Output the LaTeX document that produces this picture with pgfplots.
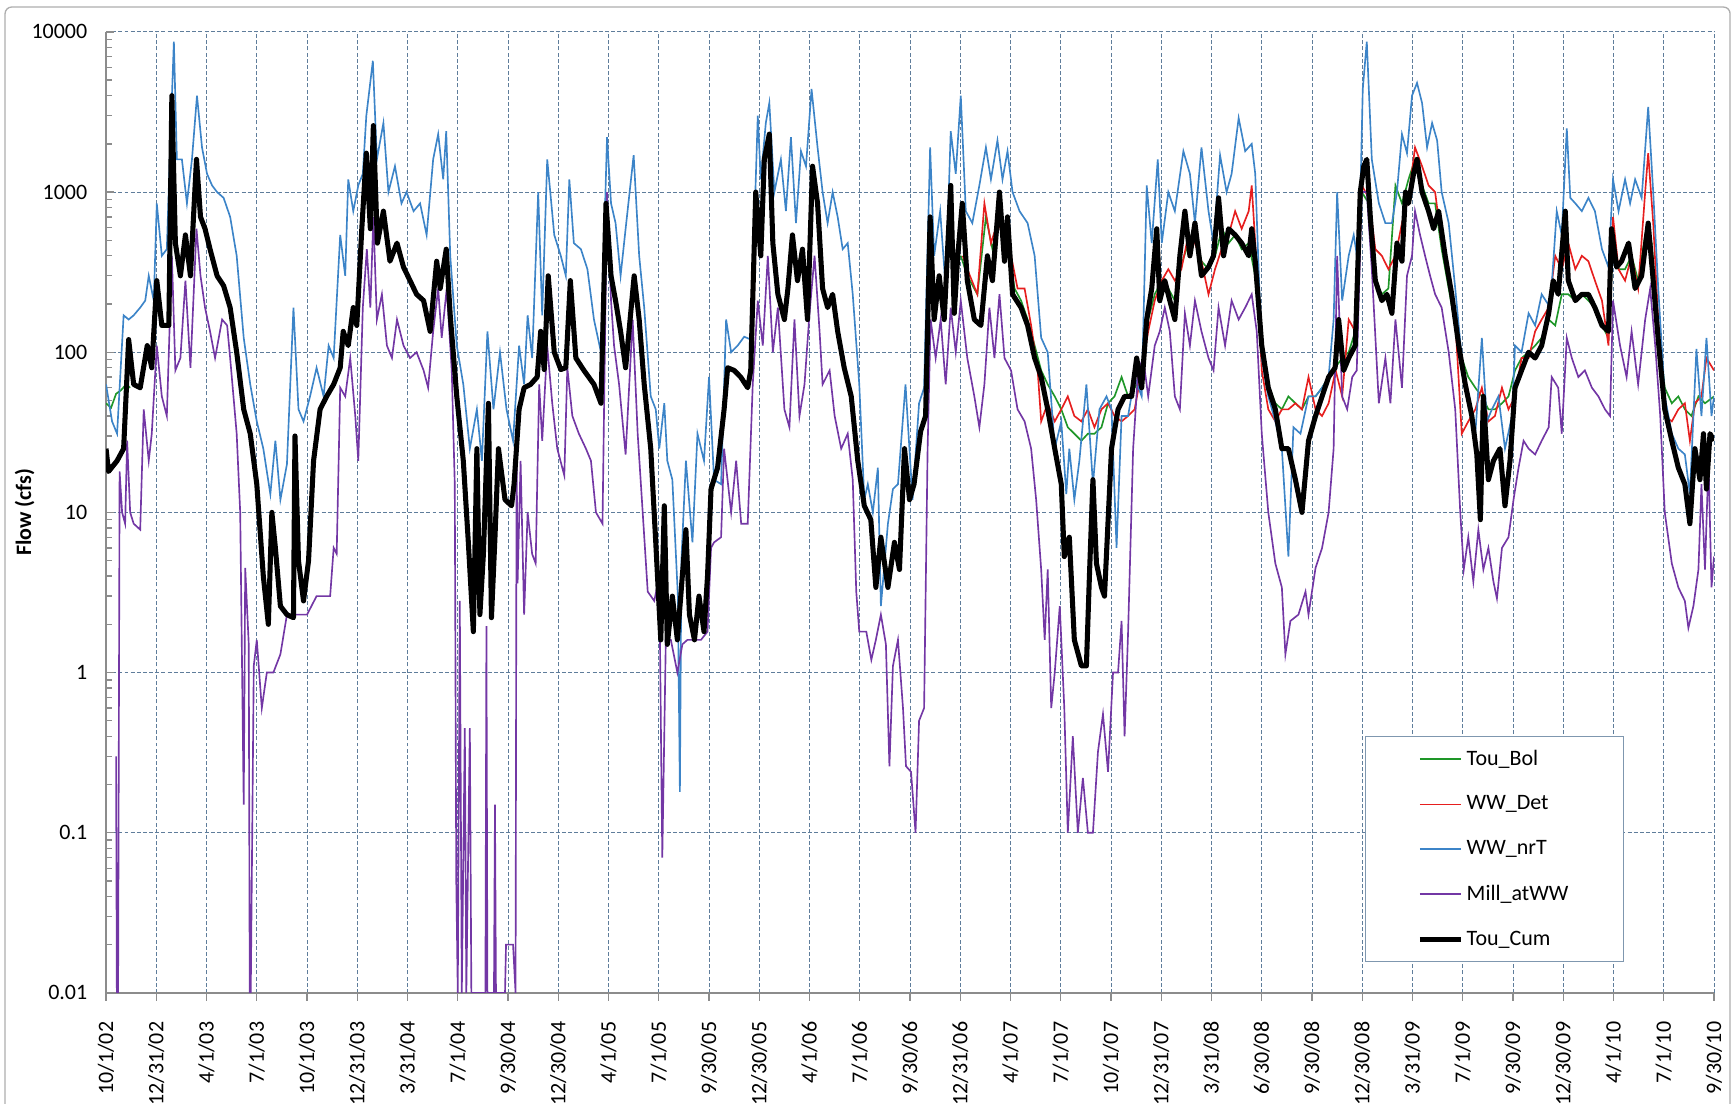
\documentclass[border=0pt]{standalone}
\usepackage{fontspec}
\setmainfont{Carlito}
\usepackage{pgfplots}
\pgfplotsset{compat=1.18}
\definecolor{cgreen}{RGB}{30,150,40}
\definecolor{cred}{RGB}{230,30,30}
\definecolor{cblue}{RGB}{60,132,200}
\definecolor{cpurple}{RGB}{115,55,165}
\definecolor{cgrid}{RGB}{95,125,155}
\definecolor{caxis}{RGB}{140,140,140}
\begin{document}
\fontsize{10pt}{12pt}\selectfont
\begin{tikzpicture}
\useasboundingbox (-48.2pt,-50.45pt) rectangle (740.9pt,451.3pt);
\draw[caxis!70, line width=0.6pt, rounded corners=3pt] (-45.9pt,-60pt) rectangle (738.2pt,448.1pt);
\begin{axis}[
 at={(0,0)}, anchor=south west,
 scale only axis, width=730.9pt, height=436.8pt,
 ymode=log, ymin=0.01, ymax=10000,
 xmin=0, xmax=32,
 axis x line=bottom, axis y line=left,
 axis line style={caxis, line width=0.7pt, -},
 xtick={0,...,32},
 xticklabels={10/1/02,12/31/02,4/1/03,7/1/03,10/1/03,12/31/03,3/31/04,7/1/04,9/30/04,12/30/04,4/1/05,7/1/05,9/30/05,12/30/05,4/1/06,7/1/06,9/30/06,12/31/06,4/1/07,7/1/07,10/1/07,12/31/07,3/31/08,6/30/08,9/30/08,12/30/08,3/31/09,7/1/09,9/30/09,12/30/09,4/1/10,7/1/10,9/30/10},
 ytick={0.01,0.1,1,10,100,1000,10000},
 yticklabels={0.01,0.1,1,10,100,1000,10000},
 grid=major,
 major grid style={cgrid, dash pattern=on 1.8pt off 1pt, line width=0.4pt},
 tick style={caxis, line width=0.6pt},
 major tick length=3.6pt, minor tick length=2.7pt,
 xtick align=outside, ytick align=inside,
 xminorticks=false,
 xticklabel style={yshift=-6pt, rotate=90, anchor=east},
 yticklabel style={xshift=-5pt},
 ylabel={\textbf{Flow (cfs)}},
 every axis y label/.style={at={(axis description cs:0,0.5)}, xshift=-37pt, rotate=90, anchor=center},
 unbounded coords=jump,
 legend style={at={(0.783,0.2674)}, anchor=north west, draw=cgrid!80, line width=0.6pt, fill=white,
   inner xsep=23.5pt, inner ysep=4.5pt, row sep=9.4pt, nodes={inner sep=1.5pt}},
 legend cell align=left,
 legend image code/.code={\draw[#1] (0pt,0pt) -- (18.6pt,0pt);},
]
% Tou_Bol
\addplot[cgreen, line width=0.75pt] coordinates {
(0,48)(0.1,45)(0.2,55)(0.3,58)(0.4,63)(0.48,60)(0.5,nan)
(17.01,400)(17.14,300)(17.34,230)(17.51,700)(17.64,440)(17.78,700)(17.94,480)(18.08,250)(18.21,210)(18.34,160)(18.48,110)(18.61,77)(18.74,63)(18.88,53)(19.01,44)(19.14,34)(19.27,31)(19.41,28)(19.54,31)(19.67,31)(19.81,34)(19.94,48)(20.07,53)(20.21,70)(20.34,53)(20.47,60)(20.61,70)(20.74,160)(20.87,230)(21.01,280)(21.14,250)(21.27,210)(21.37,330)(21.54,480)(21.67,540)(21.80,370)(21.94,330)(22.07,400)(22.21,590)(22.34,480)(22.47,540)(22.60,440)(22.74,480)(22.87,300)(23.00,92)(23.13,63)(23.27,48)(23.40,44)(23.53,53)(23.67,48)(23.80,44)(23.93,53)(24.07,53)(24.20,60)(24.33,70)(24.46,80)(24.60,92)(24.73,100)(24.86,135)(24.99,1000)(25.13,850)(25.26,280)(25.39,230)(25.52,250)(25.66,1100)(25.79,850)(25.92,1200)(26.05,1600)(26.19,1100)(26.32,850)(26.45,850)(26.58,440)(26.72,250)(26.85,147)(26.98,92)(27.11,70)(27.25,60)(27.38,53)(27.51,44)(27.64,44)(27.78,48)(27.91,53)(28.04,77)(28.17,92)(28.31,100)(28.44,110)(28.57,123)(28.71,160)(28.84,147)(28.97,230)(29.10,230)(29.24,210)(29.37,230)(29.50,210)(29.63,190)(29.77,147)(29.90,123)(29.99,480)(30.10,330)(30.23,330)(30.36,400)(30.49,280)(30.63,540)(30.76,480)(30.89,135)(31.02,60)(31.16,48)(31.29,53)(31.42,44)(31.55,40)(31.69,53)(31.82,48)(32.00,53)
};
\addlegendentry{Tou\_Bol}
% WW_Det
\addplot[cred, line width=0.75pt] coordinates {
(17.05,400)(17.14,330)(17.34,230)(17.48,850)(17.61,480)(17.74,640)(17.88,540)(18.01,400)(18.14,250)(18.28,250)(18.41,147)(18.54,77)(18.61,37)(18.74,48)(18.88,37)(19.01,44)(19.14,53)(19.27,40)(19.41,37)(19.54,44)(19.67,34)(19.81,44)(19.94,48)(20.07,40)(20.21,37)(20.34,40)(20.47,44)(20.61,77)(20.74,135)(20.87,210)(21.01,280)(21.14,330)(21.27,280)(21.40,330)(21.54,540)(21.67,480)(21.80,370)(21.94,230)(22.07,330)(22.20,440)(22.34,540)(22.47,760)(22.60,590)(22.74,760)(22.80,1100)(22.87,480)(23.00,77)(23.13,44)(23.27,37)(23.40,44)(23.53,44)(23.67,48)(23.80,44)(23.93,70)(24.07,44)(24.20,40)(24.33,48)(24.47,77)(24.60,53)(24.73,160)(24.86,135)(24.99,1100)(25.13,920)(25.26,440)(25.39,400)(25.52,330)(25.66,400)(25.79,640)(25.92,920)(26.05,1900)(26.19,1450)(26.32,1100)(26.45,1000)(26.58,480)(26.72,300)(26.85,160)(26.98,31)(27.11,37)(27.25,44)(27.38,60)(27.51,37)(27.64,40)(27.78,60)(27.91,44)(28.04,53)(28.17,92)(28.31,92)(28.44,135)(28.57,160)(28.71,190)(28.84,400)(28.97,330)(29.10,480)(29.24,330)(29.37,400)(29.50,370)(29.63,280)(29.77,210)(29.90,110)(29.99,700)(30.10,330)(30.23,280)(30.36,400)(30.49,250)(30.63,1000)(30.69,1750)(30.79,640)(30.89,160)(31.02,40)(31.16,37)(31.29,44)(31.42,48)(31.52,28)(31.62,48)(31.75,53)(31.85,92)(32.00,77)
};
\addlegendentry{WW\_Det}
% WW_nrT
\addplot[cblue, line width=0.75pt] coordinates {
(0,63)(0.12,37)(0.22,31)(0.35,170)(0.45,160)(0.55,170)(0.68,190)(0.78,210)(0.85,300)(0.95,210)(1.01,850)(1.11,400)(1.21,440)(1.28,2100)(1.35,8700)(1.41,1600)(1.51,1600)(1.61,850)(1.71,1600)(1.81,4000)(1.91,1900)(2.01,1300)(2.11,1100)(2.21,1000)(2.34,920)(2.47,700)(2.60,400)(2.74,123)(2.87,63)(3.00,37)(3.13,25)(3.27,13)(3.37,28)(3.47,12)(3.60,20)(3.73,190)(3.83,44)(3.93,37)(4.06,53)(4.19,80)(4.33,53)(4.43,110)(4.53,92)(4.66,540)(4.76,300)(4.82,1200)(4.92,760)(5.02,1100)(5.11,1300)(5.18,3000)(5.31,6600)(5.39,1600)(5.52,2700)(5.62,1000)(5.75,1450)(5.88,850)(5.98,1000)(6.12,760)(6.25,850)(6.38,540)(6.51,1600)(6.61,2300)(6.71,1200)(6.77,2400)(6.85,400)(6.98,110)(7.11,63)(7.24,25)(7.38,44)(7.48,21)(7.59,135)(7.71,44)(7.84,100)(7.97,44)(8.10,28)(8.22,110)(8.32,63)(8.39,170)(8.48,92)(8.60,1000)(8.68,170)(8.78,1600)(8.92,540)(9.05,400)(9.15,300)(9.22,1200)(9.31,480)(9.45,440)(9.58,330)(9.71,160)(9.85,100)(9.97,2200)(10.05,850)(10.14,640)(10.24,300)(10.34,590)(10.50,1700)(10.61,400)(10.71,190)(10.84,53)(10.94,44)(11.01,25)(11.11,48)(11.17,21)(11.27,16)(11.38,3)(11.42,0.18)(11.45,5)(11.54,21)(11.67,6.5)(11.77,31)(11.90,21)(12.00,70)(12.10,16)(12.24,15)(12.34,160)(12.44,100)(12.57,110)(12.70,125)(12.83,120)(12.97,3000)(13.03,1200)(13.13,2700)(13.20,3600)(13.30,1000)(13.43,1600)(13.53,760)(13.63,2200)(13.73,640)(13.83,1800)(13.93,1450)(14.04,4400)(14.16,1900)(14.26,1000)(14.36,640)(14.46,1000)(14.56,700)(14.66,440)(14.76,480)(14.86,230)(14.99,63)(15.09,12)(15.16,15)(15.26,10)(15.36,19)(15.42,2.6)(15.56,8.5)(15.66,14)(15.76,15)(15.91,63)(16.05,12)(16.18,48)(16.28,60)(16.40,1900)(16.48,400)(16.60,760)(16.71,250)(16.81,2400)(16.91,1300)(17.01,4000)(17.11,760)(17.24,640)(17.38,1100)(17.51,1900)(17.61,1200)(17.74,2100)(17.84,1200)(17.94,1800)(18.04,1000)(18.18,760)(18.34,640)(18.48,400)(18.61,123)(18.74,100)(18.88,25)(19.01,37)(19.11,13)(19.17,25)(19.27,12)(19.37,21)(19.51,63)(19.64,15)(19.77,44)(19.91,53)(20.01,44)(20.11,6)(20.21,40)(20.34,40)(20.47,70)(20.61,53)(20.71,1100)(20.81,480)(20.93,1600)(21.01,480)(21.14,1000)(21.27,760)(21.44,1800)(21.57,1300)(21.67,640)(21.80,1900)(21.94,760)(22.04,480)(22.17,1700)(22.30,1000)(22.40,1300)(22.54,2900)(22.67,1800)(22.80,2000)(22.87,1300)(23.00,92)(23.13,53)(23.27,37)(23.40,25)(23.53,5.3)(23.63,34)(23.77,31)(23.93,53)(24.07,53)(24.20,60)(24.33,70)(24.43,160)(24.50,1000)(24.60,210)(24.73,400)(24.83,540)(24.93,340)(25.01,4400)(25.09,8700)(25.19,1600)(25.33,850)(25.46,640)(25.59,640)(25.69,1000)(25.79,2300)(25.89,1750)(25.99,4000)(26.09,4800)(26.19,3600)(26.29,1900)(26.39,2700)(26.49,2100)(26.58,1000)(26.72,640)(26.85,250)(26.98,92)(27.11,53)(27.25,31)(27.38,123)(27.48,37)(27.58,44)(27.71,53)(27.84,25)(27.98,40)(28.04,110)(28.17,100)(28.31,175)(28.44,147)(28.57,230)(28.74,190)(28.87,760)(28.97,540)(29.07,2500)(29.14,920)(29.24,850)(29.37,760)(29.50,920)(29.63,760)(29.77,440)(29.90,340)(29.99,1200)(30.10,760)(30.23,1200)(30.33,850)(30.43,1200)(30.56,920)(30.69,3400)(30.79,1000)(30.89,250)(31.02,53)(31.16,31)(31.29,25)(31.42,23)(31.52,13)(31.65,105)(31.75,40)(31.85,123)(31.95,40)(32.00,53)
};
\addlegendentry{WW\_nrT}
% Mill_atWW
\addplot[cpurple, line width=0.75pt] coordinates {
(0.20,0.3)(0.215,0.01)(0.24,0.01)(0.27,18)(0.32,10)(0.38,8.5)(0.42,28)(0.48,10)(0.55,8.5)(0.68,7.8)(0.75,44)(0.85,21)(0.91,31)(1.01,110)(1.11,53)(1.21,40)(1.31,400)(1.38,77)(1.48,92)(1.58,280)(1.68,80)(1.80,590)(1.88,300)(1.97,190)(2.07,135)(2.17,92)(2.31,160)(2.41,147)(2.47,92)(2.60,31)(2.67,10)(2.74,0.15)(2.77,4.5)(2.84,1.5)(2.86,0.01)(2.88,0.01)(2.94,1.1)(3.00,1.6)(3.10,0.6)(3.20,1)(3.33,1)(3.47,1.3)(3.60,2.3)(3.80,2.3)(4.00,2.3)(4.19,3)(4.46,3)(4.53,6)(4.59,5.5)(4.66,60)(4.76,53)(4.86,92)(4.96,40)(5.02,21)(5.11,190)(5.19,440)(5.26,190)(5.32,700)(5.39,160)(5.49,230)(5.59,110)(5.69,92)(5.79,160)(5.92,110)(6.05,92)(6.18,100)(6.32,77)(6.41,60)(6.51,135)(6.61,250)(6.68,123)(6.78,250)(6.88,77)(6.94,15)(6.97,0.05)(7.00,0.01)(7.04,2.8)(7.08,0.01)(7.14,0.45)(7.17,0.01)(7.24,0.45)(7.27,0.01)(7.40,0.01)(7.55,0.01)(7.57,1.95)(7.59,0.01)(7.72,0.01)(7.74,0.15)(7.76,0.01)(7.94,0.01)(7.96,0.02)(8.04,0.02)(8.10,0.02)(8.15,0.01)(8.17,25)(8.19,3.6)(8.25,21)(8.32,2.3)(8.39,10)(8.48,5.5)(8.55,4.8)(8.62,63)(8.68,28)(8.78,110)(8.88,48)(8.98,25)(9.12,17)(9.18,80)(9.28,40)(9.41,31)(9.55,25)(9.65,21)(9.75,10)(9.88,8.5)(9.97,1000)(10.05,210)(10.11,110)(10.21,63)(10.34,23)(10.48,160)(10.58,31)(10.68,10)(10.78,3.2)(10.91,2.8)(11.01,4)(11.07,0.07)(11.14,1.6)(11.24,1.6)(11.37,1)(11.47,1.5)(11.57,1.6)(11.71,1.6)(11.84,1.6)(11.97,1.8)(12.04,6)(12.10,6.5)(12.24,7)(12.30,25)(12.44,10)(12.54,21)(12.64,8.5)(12.77,8.5)(12.87,63)(12.97,210)(13.07,110)(13.17,400)(13.27,100)(13.37,190)(13.50,44)(13.60,34)(13.70,160)(13.80,40)(13.90,63)(14.00,175)(14.10,400)(14.20,135)(14.26,63)(14.40,77)(14.50,40)(14.63,25)(14.76,31)(14.86,16)(14.93,3.2)(14.99,1.8)(15.13,1.8)(15.23,1.2)(15.32,1.6)(15.42,2.3)(15.52,1.5)(15.59,0.26)(15.66,1.1)(15.76,1.6)(15.86,0.6)(15.92,0.26)(16.02,0.24)(16.11,0.1)(16.18,0.5)(16.28,0.6)(16.35,25)(16.41,160)(16.51,92)(16.61,160)(16.71,63)(16.81,190)(16.91,100)(17.01,210)(17.14,92)(17.28,53)(17.38,34)(17.48,63)(17.58,190)(17.68,92)(17.78,230)(17.88,92)(18.01,77)(18.14,44)(18.28,37)(18.41,25)(18.51,12)(18.61,4.4)(18.68,1.6)(18.74,4.4)(18.81,0.6)(18.88,1)(18.98,2.6)(19.07,0.6)(19.14,0.1)(19.24,0.4)(19.34,0.1)(19.44,0.22)(19.54,0.1)(19.64,0.1)(19.74,0.32)(19.84,0.55)(19.94,0.24)(20.04,1)(20.14,1)(20.21,2.1)(20.27,0.4)(20.34,1.8)(20.44,25)(20.54,77)(20.64,92)(20.74,53)(20.87,110)(20.97,135)(21.07,190)(21.17,135)(21.27,53)(21.37,44)(21.47,175)(21.57,110)(21.67,210)(21.80,135)(21.94,92)(22.04,77)(22.14,190)(22.27,110)(22.40,210)(22.54,160)(22.67,190)(22.80,230)(22.90,135)(23.00,31)(23.13,10)(23.27,4.8)(23.40,3.4)(23.47,1.3)(23.57,2.1)(23.73,2.3)(23.87,3.2)(23.93,2.3)(24.07,4.5)(24.20,6)(24.33,10)(24.43,25)(24.50,400)(24.60,53)(24.70,44)(24.80,70)(24.89,77)(24.99,1000)(25.09,1000)(25.19,330)(25.33,48)(25.46,92)(25.56,48)(25.66,160)(25.79,60)(25.89,300)(25.99,400)(26.05,760)(26.15,540)(26.25,400)(26.35,300)(26.45,230)(26.58,190)(26.72,100)(26.85,44)(26.95,10)(27.02,4.4)(27.11,7)(27.21,3.7)(27.31,7.8)(27.41,4.4)(27.51,6)(27.61,3.7)(27.68,2.9)(27.78,6)(27.91,7)(28.01,12)(28.11,19)(28.21,28)(28.31,25)(28.44,23)(28.57,28)(28.71,34)(28.77,70)(28.90,60)(28.97,31)(29.07,123)(29.17,92)(29.30,70)(29.43,77)(29.57,60)(29.70,53)(29.83,44)(29.93,40)(29.99,210)(30.13,110)(30.26,70)(30.36,135)(30.49,63)(30.63,160)(30.73,250)(30.83,110)(30.93,40)(31.02,10)(31.16,4.8)(31.29,3.4)(31.42,2.8)(31.49,1.9)(31.59,2.6)(31.69,4.4)(31.75,15)(31.82,4.4)(31.89,21)(31.95,3.4)(32.00,5.3)
};
\addlegendentry{Mill\_atWW}
% Tou_Cum
\addplot[black, line width=2.3pt, line join=round] coordinates {
(0,25)(0.05,18)(0.22,21)(0.35,25)(0.45,120)(0.55,63)(0.68,60)(0.82,110)(0.91,80)(1.01,280)(1.11,147)(1.25,147)(1.31,4000)(1.38,480)(1.48,300)(1.58,540)(1.68,300)(1.80,1600)(1.88,700)(1.97,590)(2.07,440)(2.21,300)(2.34,260)(2.47,190)(2.60,100)(2.74,44)(2.87,31)(3.00,15)(3.13,4)(3.23,2)(3.30,10)(3.37,6)(3.47,2.6)(3.60,2.3)(3.73,2.2)(3.76,30)(3.83,5)(3.93,2.8)(4.03,5)(4.13,21)(4.26,44)(4.39,53)(4.53,63)(4.66,80)(4.72,135)(4.82,110)(4.92,190)(4.99,147)(5.09,590)(5.18,1750)(5.26,590)(5.32,2600)(5.40,480)(5.52,760)(5.65,370)(5.79,480)(5.92,340)(6.05,280)(6.18,230)(6.32,210)(6.45,135)(6.58,370)(6.65,250)(6.77,440)(6.85,170)(6.98,53)(7.11,21)(7.21,6.5)(7.31,1.8)(7.38,25)(7.44,2.3)(7.51,5.5)(7.61,48)(7.67,2.2)(7.74,7)(7.81,25)(7.94,12)(8.07,11)(8.12,15)(8.22,44)(8.32,60)(8.45,63)(8.58,70)(8.65,135)(8.72,78)(8.80,300)(8.92,100)(9.05,78)(9.15,80)(9.24,280)(9.35,92)(9.51,77)(9.71,63)(9.85,48)(9.95,850)(10.05,300)(10.14,210)(10.24,135)(10.34,80)(10.51,300)(10.61,160)(10.71,63)(10.84,25)(10.94,6.5)(11.04,1.6)(11.11,11)(11.17,1.5)(11.27,3)(11.37,1.6)(11.54,7.8)(11.61,2.3)(11.71,1.6)(11.80,3)(11.90,1.8)(11.97,4)(12.04,14)(12.17,19)(12.30,44)(12.37,80)(12.50,77)(12.63,70)(12.77,60)(12.83,77)(12.93,1000)(13.03,400)(13.10,1600)(13.20,2300)(13.27,480)(13.37,230)(13.50,160)(13.57,250)(13.66,540)(13.76,280)(13.86,440)(13.96,160)(14.06,1450)(14.16,850)(14.26,250)(14.36,190)(14.46,230)(14.56,135)(14.69,80)(14.83,53)(14.96,21)(15.09,11)(15.22,9)(15.32,3.4)(15.42,7)(15.56,3.4)(15.69,6.5)(15.79,4.4)(15.89,25)(15.99,12)(16.08,15)(16.21,32)(16.31,40)(16.40,700)(16.48,160)(16.58,300)(16.68,160)(16.81,1100)(16.88,175)(16.95,400)(17.04,850)(17.14,280)(17.28,160)(17.41,147)(17.54,400)(17.64,280)(17.78,1000)(17.88,370)(17.94,700)(18.04,230)(18.21,190)(18.34,147)(18.48,92)(18.61,70)(18.74,44)(18.88,25)(19.01,15)(19.07,5.3)(19.17,7)(19.27,1.6)(19.41,1.1)(19.51,1.1)(19.57,4)(19.64,16)(19.71,4.8)(19.81,3.4)(19.87,3)(20.01,25)(20.14,44)(20.27,53)(20.41,53)(20.51,92)(20.61,60)(20.71,160)(20.81,250)(20.91,590)(20.97,210)(21.07,280)(21.17,210)(21.27,160)(21.37,400)(21.47,760)(21.57,400)(21.67,640)(21.80,300)(21.94,340)(22.04,400)(22.14,920)(22.24,400)(22.34,590)(22.47,540)(22.60,480)(22.74,400)(22.80,590)(22.87,370)(23.00,110)(23.13,60)(23.27,44)(23.40,25)(23.53,25)(23.67,16)(23.80,10)(23.93,28)(24.07,40)(24.20,53)(24.33,70)(24.46,80)(24.53,160)(24.63,77)(24.73,92)(24.86,110)(24.96,1000)(25.03,1450)(25.09,1600)(25.16,700)(25.26,280)(25.39,210)(25.49,230)(25.59,175)(25.69,480)(25.79,370)(25.86,1000)(25.92,850)(26.02,1300)(26.09,1600)(26.19,1000)(26.32,760)(26.42,590)(26.52,760)(26.65,400)(26.78,230)(26.92,110)(27.05,63)(27.18,40)(27.28,23)(27.35,9)(27.41,53)(27.51,16)(27.61,21)(27.74,25)(27.84,11)(27.94,21)(28.04,60)(28.17,77)(28.31,100)(28.44,92)(28.57,110)(28.71,175)(28.80,280)(28.90,230)(29.04,760)(29.10,280)(29.24,210)(29.37,230)(29.50,230)(29.63,190)(29.77,147)(29.90,135)(29.96,590)(30.06,340)(30.16,370)(30.30,480)(30.43,250)(30.56,300)(30.69,640)(30.79,280)(30.89,120)(31.02,44)(31.16,28)(31.29,19)(31.42,15)(31.52,8.5)(31.62,25)(31.72,16)(31.79,31)(31.85,14)(31.92,31)(32.00,28)
};
\addlegendentry{Tou\_Cum}
\end{axis}
\end{tikzpicture}
\end{document}
